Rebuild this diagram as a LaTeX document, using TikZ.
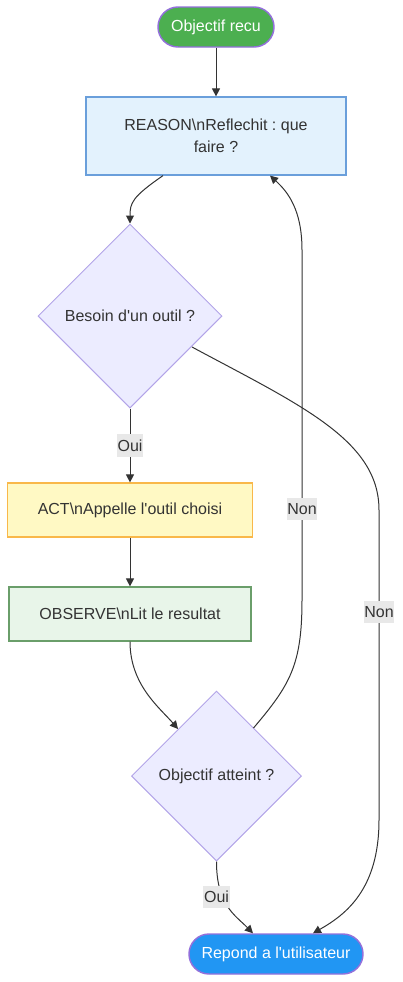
\documentclass[tikz,border=0pt]{standalone}
\usepackage{fontspec}
\setmainfont{Liberation Sans}[Ligatures=TeXOff]
\usetikzlibrary{shapes.geometric,arrows.meta,calc}
\frenchspacing
\definecolor{txt}{HTML}{333333}
\definecolor{edge}{HTML}{333333}
\definecolor{purp}{HTML}{9370DB}
\definecolor{startfill}{HTML}{4CAF50}
\definecolor{endfill}{HTML}{2196F3}
\definecolor{reasonfill}{HTML}{E3F2FD}
\definecolor{reasondraw}{HTML}{6A9FDB}
\definecolor{actfill}{HTML}{FFF9C4}
\definecolor{actdraw}{HTML}{F9B84A}
\definecolor{obsfill}{HTML}{E8F5E9}
\definecolor{obsdraw}{HTML}{6A9E6A}
\definecolor{diafill}{HTML}{ECECFF}
\definecolor{diadraw}{HTML}{B3A4E8}
\definecolor{lblfill}{HTML}{E8E8E8}
\tikzset{
  base/.style={font=\fontsize{12pt}{16.5pt}\selectfont, text=txt, align=center},
  stadium/.style={base, draw=purp, line width=1.1pt, rounded corners=15pt, minimum height=30pt, text=white, inner sep=0pt},
  boxnode/.style={base, rectangle, line width=0.9pt, inner sep=0pt},
  dia/.style={base, diamond, aspect=1, draw=diadraw, fill=diafill, line width=0.75pt, inner sep=0pt},
  arr/.style={draw=edge, line width=0.75pt, -{Triangle[length=6pt,width=6pt]}},
  lbl/.style={base, fill=lblfill, inner xsep=0.6pt, inner ysep=0pt, minimum height=17pt}
}
\begin{document}
\begin{tikzpicture}[x=0.75pt,y=-0.75pt]
\useasboundingbox (0,0) rectangle (403,982);
\node[stadium, fill=startfill, minimum width=87pt] (start) at (216,27) {Objectif recu};
\node[boxnode, fill=reasonfill, draw=reasondraw, minimum width=195pt, minimum height=58.5pt] (reason) at (216,136) {REASON\textbackslash nReflechit : que\\faire ?};
\node[dia, minimum width=138pt, minimum height=138pt] (d1) at (130,316) {Besoin d'un outil ?};
\node[boxnode, fill=actfill, draw=actdraw, minimum width=183.5pt, minimum height=40.5pt] (act) at (130,510) {ACT\textbackslash nAppelle l'outil choisi};
\node[boxnode, fill=obsfill, draw=obsdraw, minimum width=181.5pt, minimum height=40.5pt] (obs) at (130,614) {OBSERVE\textbackslash nLit le resultat};
\node[dia, minimum width=127.5pt, minimum height=127.5pt] (d2) at (216.5,776) {Objectif atteint ?};
\node[stadium, fill=endfill, minimum width=130.5pt] (resp) at (276,954) {Repond a l'utilisateur};

\draw[arr] (start) -- (reason);
\draw[arr] ($(reason.south)+(-53,0)$) .. controls (132,197) and (130,203) .. (d1.north);
\draw[arr] (d1.south) -- node[lbl] {Oui} (act.north);
\draw[arr] (act) -- (obs);
\draw[arr] ($(obs.south)+(0,0)$) .. controls (130,685) and (160,708) .. (178,729);
\coordinate (d2ur) at (253.5,728);
\coordinate (nonA) at (302,509);
\draw[arr] (d2ur) .. controls (290,685) and (302,665) .. (302,600) -- (nonA) -- (302,250) .. controls (302,210) and (288,192) .. ($(reason.south)+(54,0)$);
\node[lbl] at (nonA) {Non};
\coordinate (d1lr) at (192,347);
\coordinate (nonB) at (379,612);
\draw[arr] (d1lr) .. controls (300,405) and (379,440) .. (379,510) -- (nonB) -- (379,820) .. controls (379,890) and (345,915) .. ($(resp.north)+(37,0)$);
\node[lbl] at (nonB) {Non};
\coordinate (ouiB) at (216.5,897);
\draw[arr] (d2.south) .. controls (216.5,905) and (235,915) .. ($(resp.north)+(-23,0)$);
\node[lbl] at (ouiB) {Oui};
\end{tikzpicture}
\end{document}
